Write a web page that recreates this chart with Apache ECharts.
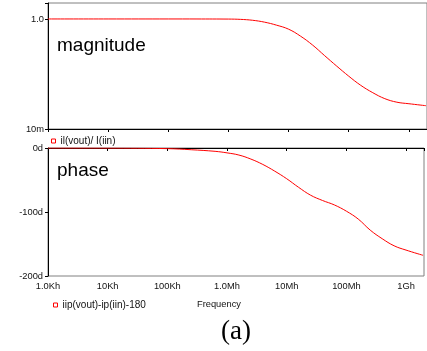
<!DOCTYPE html>
<html>
<head>
<meta charset="utf-8">
<script src="https://cdn.jsdelivr.net/npm/echarts@6/dist/echarts.min.js"></script>
<style>
    html, body { margin: 0; padding: 0; background: #fff; }
    #chart { width: 427px; height: 351px; }
</style>
</head>
<body>
<div id="chart"></div>
<script>
//幅频数据
const magFreq = [1e3, 1e4, 1e5, 3e5, 1e6, 1.58e6, 2.51e6, 3.98e6, 6.31e6, 1e7, 1.58e7, 2.51e7, 3.98e7, 6.31e7, 1e8, 1.58e8, 2.51e8, 3.98e8, 6.31e8, 1e9, 1.93e9];
const magValues = [1, 1, 1, 0.999, 0.995, 0.983, 0.947, 0.875, 0.771, 0.652, 0.487, 0.335, 0.215, 0.139, 0.0912, 0.0623, 0.0457, 0.0356, 0.0307, 0.0288, 0.0265];

//相频数据
const phaseFreq = [1e3, 1e4, 1e5, 2.51e5, 6.31e5, 1e6, 1.58e6, 2.51e6, 3.98e6, 6.31e6, 1e7, 1.58e7, 2.51e7, 3.98e7, 6.31e7, 1e8, 1.58e8, 2.51e8, 3.98e8, 6.31e8, 1e9, 1.93e9];
const phaseValues = [0, -0.1, -1, -2.7, -5.2, -7.6, -11, -17.3, -25.7, -36.2, -48, -61.4, -73.7, -82, -89, -98.7, -111, -128.3, -141.7, -152.8, -159.5, -167.7];

//刻度标签
const xTickValues = [1e3, 1e4, 1e5, 1e6, 1e7, 1e8, 1e9];
const xTickLabels = ['1.0Kh', '10Kh', '100Kh', '1.0Mh', '10Mh', '100Mh', '1Gh'];
const magTickLabels = { '0.01': '10m', '1': '1.0' };
const phaseTickLabels = ['-200d', '-100d', '0d'];

const magName = 'il(vout)/ I(iin)';
const phaseName = 'iip(vout)-ip(iin)-180';

const chart = echarts.init(document.getElementById('chart'));

const font = 'Liberation Sans, Arial, sans-serif';
const axisLine = { lineStyle: { color: '#000', width: 1 } };

function xLabel(v) {
    let i = xTickValues.findIndex(t => Math.abs(Math.log10(t) - Math.log10(v)) < 1e-6);
    return i >= 0 ? xTickLabels[i] : '';
}

function xAxis(gridIndex, showLabel) {
    return {
        type: 'log', logBase: 10, gridIndex,
        min: 1e3, max: 2e9,
        axisLine,
        axisTick: { show: true, length: 3, lineStyle: { color: '#000' } },
        axisLabel: { show: showLabel, formatter: xLabel, fontSize: 9.3, fontFamily: font, color: '#111', margin: 6 },
        splitLine: { show: false }
    };
}

const legendCommon = {
    orient: 'horizontal',
    icon: 'rect',
    itemWidth: 4, itemHeight: 4,
    itemStyle: { color: '#fff', borderColor: '#ff0000', borderWidth: 1 },
    textStyle: { fontSize: 10, fontFamily: font, color: '#111' },
    selectedMode: false,
    padding: 0
};

chart.setOption({
    animation: false,
    backgroundColor: '#fff',
    grid: [
        { left: 48, right: -1, top: 3, height: 126, show: true, borderColor: '#808080', borderWidth: 1 },
        { left: 48, right: -1, top: 148, height: 128, show: true, borderColor: '#808080', borderWidth: 1 }
    ],
    xAxis: [xAxis(0, false), xAxis(1, true)],
    yAxis: [
        {
            type: 'log', logBase: 100, gridIndex: 0,
            min: 0.01, max: 1.95,
            axisLine,
            axisTick: { show: true, length: 3, lineStyle: { color: '#000' } },
            axisLabel: {
                formatter: v => magTickLabels[String(Math.round(v * 100) / 100)] || '',
                fontSize: 9.3, fontFamily: font, color: '#111', margin: 4
            },
            splitLine: { show: false }
        },
        {
            type: 'value', gridIndex: 1,
            min: -200, max: 0, interval: 100,
            axisLine,
            axisTick: { show: true, length: 3, lineStyle: { color: '#000' } },
            axisLabel: {
                formatter: v => phaseTickLabels[Math.round((v + 200) / 100)],
                fontSize: 9.3, fontFamily: font, color: '#111', margin: 5
            },
            splitLine: { show: false }
        }
    ],
    legend: [
        Object.assign({ left: 51, top: 136, data: [magName] }, legendCommon),
        Object.assign({ left: 53, top: 300, data: [phaseName], textStyle: { fontSize: 9.5, fontFamily: font, color: '#111' } }, legendCommon)
    ],
    series: [
        {
            name: magName, type: 'line', xAxisIndex: 0, yAxisIndex: 0,
            data: magFreq.map((f, i) => [f, magValues[i]]),
            smooth: 0.4, showSymbol: false,
            lineStyle: { color: '#ff0000', width: 1 },
            itemStyle: { color: '#ff0000' }
        },
        {
            name: phaseName, type: 'line', xAxisIndex: 1, yAxisIndex: 1,
            data: phaseFreq.map((f, i) => [f, phaseValues[i]]),
            smooth: 0.4, showSymbol: false,
            lineStyle: { color: '#ff0000', width: 1 },
            itemStyle: { color: '#ff0000' }
        }
    ],
    graphic: [
        { type: 'text', left: 57, top: 36, style: { text: 'magnitude', font: '19px ' + font, fill: '#000' } },
        { type: 'text', left: 57, top: 161, style: { text: 'phase', font: '19px ' + font, fill: '#000' } },
        { type: 'text', left: 197, top: 300, style: { text: 'Frequency', font: '9.3px ' + font, fill: '#111' } },
        { type: 'text', left: 221, top: 318, style: { text: '(a)', font: '27px Liberation Serif, Times New Roman, serif', fill: '#000' } }
    ]
});
</script>
</body>
</html>
